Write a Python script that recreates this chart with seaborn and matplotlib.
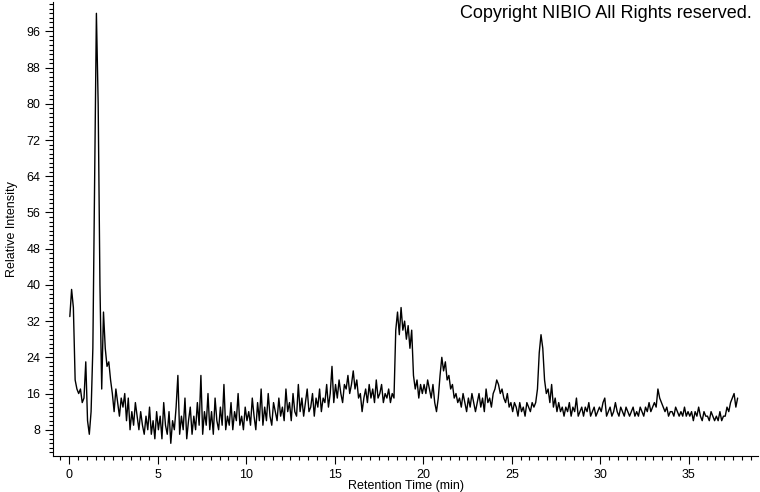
import matplotlib.pyplot as plt
from matplotlib.ticker import MultipleLocator
import numpy as np
import pandas as pd
import seaborn as sns

# relative intensity, one row per minute (samples every 0.1 min from 0.05)
intensity = [
    33, 39, 35, 19, 17, 16, 17, 14, 15, 23,
    10, 7, 12, 26, 62, 100, 80, 40, 17, 34,
    26, 22, 23, 19, 16, 12, 17, 14, 11, 15,
    13, 16, 10, 15, 8, 12, 9, 14, 11, 8,
    12, 9, 7, 11, 8, 13, 7, 10, 6, 12,
    8, 11, 6, 14, 9, 7, 12, 5, 10, 8,
    13, 20, 7, 11, 8, 15, 6, 10, 13, 7,
    11, 8, 14, 9, 20, 7, 12, 9, 16, 8,
    12, 7, 15, 10, 8, 13, 9, 18, 8, 11,
    9, 14, 8, 12, 10, 16, 9, 11, 8, 13,
    10, 12, 9, 15, 11, 8, 14, 10, 17, 9,
    13, 10, 16, 11, 9, 14, 12, 10, 15, 11,
    13, 10, 17, 12, 14, 10, 16, 12, 11, 18,
    12, 15, 11, 14, 17, 12, 13, 16, 11, 15,
    13, 17, 12, 15, 14, 18, 13, 16, 22, 14,
    18, 15, 19, 16, 14, 18, 17, 20, 16, 18,
    21, 17, 19, 15, 16, 12, 15, 17, 14, 18,
    15, 17, 14, 19, 15, 16, 18, 14, 16, 15,
    17, 14, 16, 15, 30, 34, 29, 35, 30, 32,
    28, 31, 26, 30, 20, 17, 19, 15, 18, 16,
    18, 16, 19, 17, 15, 18, 14, 12, 15, 20,
    24, 21, 23, 19, 20, 17, 18, 15, 16, 14,
    15, 13, 16, 14, 12, 15, 13, 16, 14, 12,
    14, 16, 13, 15, 12, 17, 14, 15, 13, 16,
    17, 19, 18, 16, 17, 15, 14, 16, 13, 14,
    12, 14, 13, 11, 14, 12, 13, 11, 14, 13,
    12, 14, 13, 14, 17, 25, 29, 26, 19, 16,
    17, 14, 18, 13, 15, 12, 14, 12, 13, 11,
    13, 12, 14, 11, 13, 12, 15, 11, 12, 13,
    11, 13, 12, 14, 11, 12, 13, 11, 12, 13,
    12, 14, 15, 11, 12, 13, 11, 12, 14, 12,
    11, 13, 12, 11, 13, 12, 11, 12, 13, 11,
    12, 11, 13, 12, 11, 13, 12, 14, 12, 13,
    14, 13, 17, 15, 14, 13, 12, 13, 11, 12,
    12, 11, 13, 12, 11, 12, 11, 13, 11, 12,
    11, 12, 10, 12, 11, 13, 11, 10, 12, 11,
    11, 10, 12, 11, 10, 11, 10, 12, 10, 11,
    11, 13, 12, 14, 15, 16, 13, 15,
]
retention_time = np.round(0.05 + 0.1 * np.arange(len(intensity)), 2)

df = pd.DataFrame({"time": retention_time, "intensity": intensity})

sns.set_style("ticks")
plt.rcParams["font.family"] = ["Liberation Sans", "DejaVu Sans"]
plt.rcParams.update({
    "text.color": "black",
    "axes.labelcolor": "black",
    "xtick.color": "black",
    "ytick.color": "black",
})

fig = plt.figure(figsize=(7.6, 4.92), dpi=100)
ax = fig.add_axes([53 / 760, 36 / 492, 705 / 760, 454 / 492])

sns.lineplot(data=df, x="time", y="intensity", color="black", linewidth=1.0, ax=ax)

ax.set_xlim(-0.9, 38.9)
ax.set_ylim(2.2, 102.5)
ax.xaxis.set_major_locator(MultipleLocator(5))
ax.xaxis.set_minor_locator(MultipleLocator(0.5))
ax.yaxis.set_minor_locator(MultipleLocator(1))
ax.set_yticks(np.arange(8, 97, 8))
ax.tick_params(which="major", length=6, width=0.8, labelsize=9, pad=3)
ax.tick_params(which="minor", length=3, width=0.8)
sns.despine(ax=ax)
for s in ["left", "bottom"]:
    ax.spines[s].set_color("black")
    ax.spines[s].set_linewidth(0.8)

ax.set_xlabel("Retention Time (min)", fontsize=9, labelpad=0)
ax.set_ylabel("Relative Intensity", fontsize=9, labelpad=6)

fig.text(752 / 760, 1 - 14 / 492, "Copyright NIBIO All Rights reserved.",
         ha="right", va="center", fontsize=13)

fig.savefig("out.png", dpi=100)
